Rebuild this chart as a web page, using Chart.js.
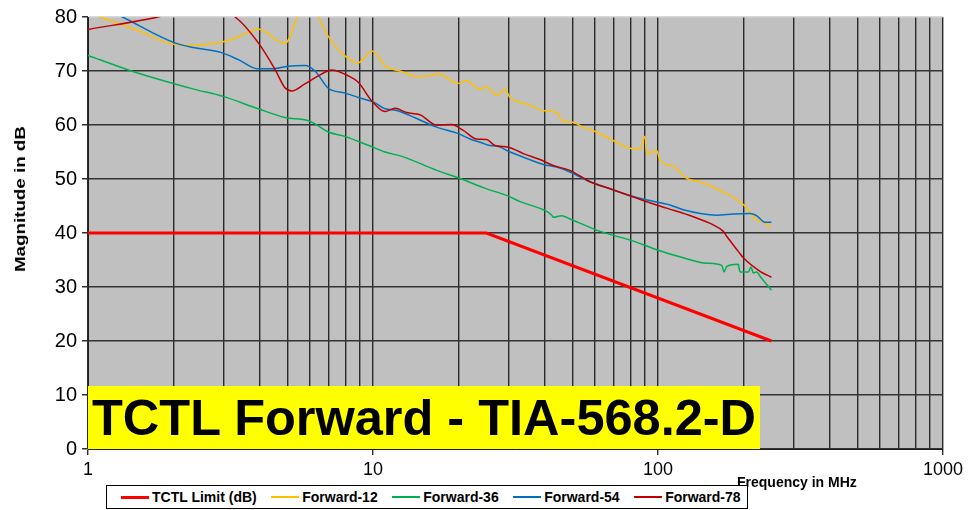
<!DOCTYPE html>
<html lang="en">
<head>
  <meta charset="UTF-8">
  <title>TCTL Forward - TIA-568.2-D</title>
  <script src="https://cdn.jsdelivr.net/npm/chart.js"></script>
  <style>
    body {
      margin: 0;
      background: #fff;
      font-family: 'Liberation Sans', Arial, sans-serif;
    }

    .wrap {
      position: relative;
      width: 969px;
      height: 510px;
      overflow: hidden;
    }

    .banner {
      position: absolute;
      left: 88px;
      top: 386px;
      width: 668px;
      height: 63px;
      padding-left: 4px;
      background: #ffff00;
      color: #000;
      font-weight: bold;
      font-size: 50.5px;
      line-height: 63px;
      white-space: nowrap;
    }

    .y-title {
      position: absolute;
      left: 20px;
      top: 199px;
      font-weight: bold;
      font-size: 15px;
      line-height: 16px;
      white-space: nowrap;
      transform: translate(-50%, -50%) rotate(-90deg) scaleX(1.25);
    }

    .x-title {
      position: absolute;
      left: 737px;
      top: 474px;
      font-weight: bold;
      font-size: 14px;
      line-height: 16px;
      white-space: nowrap;
    }

    .legend {
      position: absolute;
      left: 106px;
      top: 485px;
      width: 626px;
      height: 22px;
      padding-left: 14px;
      border: 1px solid #000;
      background: #fff;
      display: flex;
      align-items: center;
      gap: 14.5px;
      font-weight: bold;
      font-size: 14px;
      white-space: nowrap;
    }

    .legend .item {
      display: flex;
      align-items: center;
    }

    .legend .swatch {
      width: 28px;
      margin-right: 3px;
    }
  </style>
</head>
<body>

<div class="wrap">
  <canvas id="chart" width="969" height="510"></canvas>
  <div class="y-title">Magnitude in dB</div>
  <div class="x-title">Frequency in MHz</div>
  <div class="legend" id="legend"></div>
  <div class="banner">TCTL Forward - TIA-568.2-D</div>
</div>

<script>
  // axis values
  const xTickLabels = [1, 10, 100, 1000];
  const yMin = 0, yMax = 80, yStep = 10;

  const seriesNames = ['TCTL Limit (dB)', 'Forward-12', 'Forward-36', 'Forward-54', 'Forward-78'];
  const seriesColors = ['#ff0000', '#ffc000', '#00b050', '#0070c0', '#c00000'];
  const seriesWidths = [3, 1.5, 1.5, 1.5, 1.5];

  // limit line
  const limitFreq = [1, 25, 250];
  const limitDb = [40, 40, 20];

  // Forward-12
  const fwd12Freq = [1, 1.1, 1.5, 2.02, 2.37, 3.03, 3.4, 3.95, 4.91, 5.46, 5.9, 6.41, 6.95, 7.97, 8.86,
    9.92, 11.1, 12.44, 14.23, 15.85, 16.9, 19.87, 21.3, 23.74, 25.06, 27.2, 29.05, 30.25, 34.6, 39.5,
    44.6, 45.9, 50.3, 54.6, 60.9, 67.9, 79.8, 86.5, 90.0, 91.3, 98.9, 101.6, 110.2, 114.7, 126.1,
    140.4, 169, 194, 210, 222, 233.6, 250];
  const fwd12Db = [80.8, 80.0, 77.5, 74.9, 74.8, 75.5, 76.4, 77.8, 75.1, 80.2, 83.0, 80.2, 76.5, 72.8, 71.5,
    73.7, 70.8, 70.0, 69.0, 69.1, 69.5, 67.7, 68.2, 66.6, 67.1, 65.5, 66.6, 65.1, 63.9, 62.7,
    62.2, 60.8, 60.5, 59.6, 58.7, 57.4, 55.7, 55.5, 57.9, 54.6, 55.3, 53.5, 52.5, 52.2, 50.1,
    49.5, 47.6, 45.8, 44.0, 42.4, 42.1, 40.9];

  // Forward-36
  const fwd36Freq = [1, 1.385, 1.99, 2.37, 2.98, 3.96, 4.91, 5.93, 6.26, 6.97, 7.98, 9.13, 9.76, 11.02, 12.78,
    16.73, 20.2, 24.38, 30.25, 32.8, 39.6, 42.4, 42.9, 45.9, 49.1, 62.6, 81.9, 98.9, 122.7, 148.2,
    167.3, 170.5, 174.2, 191.3, 194, 207.5, 212, 216, 222, 228, 250];
  const fwd36Db = [72.9, 70.2, 67.7, 66.6, 65.3, 63.0, 61.4, 60.8, 60.2, 58.7, 57.9, 56.7, 56.1, 55.0, 54.1,
    51.6, 50.1, 48.4, 46.7, 45.8, 44.3, 43.3, 42.9, 43.2, 42.6, 40.3, 38.5, 36.9, 35.4, 34.4,
    34.0, 32.8, 33.8, 34.2, 32.8, 32.8, 33.7, 32.6, 32.8, 32.0, 29.4];

  // Forward-54
  const fwd54Freq = [1, 1.31, 2.02, 2.37, 2.94, 3.37, 3.96, 4.41, 5.04, 5.77, 6.26, 6.97, 7.98, 9.13, 10.16,
    11.02, 12.11, 14.23, 16.73, 19.93, 21.9, 24.07, 25.73, 27.2, 30.25, 34.6, 39.6, 44.1, 49.1, 57.7,
    67.9, 79.8, 93.7, 110.2, 122.7, 160.6, 183.7, 210.2, 222, 237.4, 250];
  const fwd54Db = [83.0, 80.1, 75.2, 74.3, 73.4, 72.1, 70.4, 70.4, 70.9, 71.0, 70.0, 66.8, 65.9, 64.9, 64.1,
    63.0, 62.7, 61.2, 59.6, 58.4, 57.4, 56.7, 56.2, 56.1, 55.0, 53.8, 52.7, 52.2, 51.3, 49.5,
    48.2, 46.9, 46.0, 45.2, 44.3, 43.3, 43.5, 43.6, 43.2, 42.0, 42.0];

  // Forward-78
  const fwd78Freq = [1, 1.79, 2.4, 3.28, 3.96, 4.53, 4.91, 5.19, 5.77, 6.43, 7.16, 8.19, 8.88, 9.89, 11.02,
    11.95, 13.13, 14.62, 16.73, 18.88, 20.74, 23.12, 25.06, 26.8, 29.83, 33.7, 38.5, 42.9, 49.1, 57.7,
    67.9, 79.8, 93.7, 107.3, 133.0, 156.3, 169.5, 174.2, 191.3, 199.3, 228, 250];
  const fwd78Db = [77.7, 80.1, 82.0, 80.0, 75.2, 70.3, 66.9, 66.3, 67.6, 69.1, 70.2, 69.1, 67.9, 64.5, 62.5,
    63.1, 62.3, 61.9, 60.0, 60.1, 59.0, 57.4, 57.3, 56.2, 55.9, 54.7, 53.6, 52.5, 51.6, 49.5,
    48.2, 46.9, 45.6, 44.6, 43.0, 41.5, 40.3, 39.4, 36.6, 35.4, 32.9, 31.8];

  const seriesFreq = [limitFreq, fwd12Freq, fwd36Freq, fwd54Freq, fwd78Freq];
  const seriesDb = [limitDb, fwd12Db, fwd36Db, fwd54Db, fwd78Db];

  // vertical grid at 1..9 of every decade
  const xGrid = [];
  for (let d = 1; d < 1000; d *= 10) {
    for (let m = 1; m <= 9; m++) xGrid.push(m * d);
  }
  xGrid.push(1000);

  const datasets = seriesNames.map((name, i) => ({
    label: name,
    data: seriesFreq[i].map((f, j) => ({ x: f, y: seriesDb[i][j] })),
    borderColor: seriesColors[i],
    borderWidth: seriesWidths[i],
    pointRadius: 0,
    fill: false,
    cubicInterpolationMode: i === 0 ? 'default' : 'monotone',
    tension: 0,
    order: seriesNames.length - i
  }));

  // html legend
  const legend = document.getElementById('legend');
  seriesNames.forEach((name, i) => {
    const item = document.createElement('div');
    item.className = 'item';
    const sw = document.createElement('span');
    sw.className = 'swatch';
    sw.style.height = seriesWidths[i] + 'px';
    sw.style.background = seriesColors[i];
    const txt = document.createElement('span');
    txt.textContent = name;
    item.appendChild(sw);
    item.appendChild(txt);
    legend.appendChild(item);
  });

  const plotBg = {
    id: 'plotBg',
    beforeDraw(chart) {
      const { ctx, chartArea: a } = chart;
      ctx.save();
      ctx.fillStyle = '#c0c0c0';
      ctx.fillRect(a.left, a.top, a.right - a.left, a.bottom - a.top);
      ctx.restore();
    }
  };

  const tickFont = { family: "'Liberation Sans', Arial, sans-serif", size: 18 };

  new Chart(document.getElementById('chart'), {
    type: 'line',
    data: { datasets: datasets },
    plugins: [plotBg],
    options: {
      responsive: false,
      animation: false,
      devicePixelRatio: 1,
      layout: { padding: { left: 0, top: 14, right: 26, bottom: 0 } },
      plugins: {
        legend: { display: false },
        tooltip: { enabled: false }
      },
      scales: {
        x: {
          type: 'logarithmic',
          min: 1,
          max: 1000,
          afterBuildTicks: s => { s.ticks = xGrid.map(v => ({ value: v })); },
          afterFit: s => { s.height = 61; },
          border: { display: true, color: '#202020', width: 1 },
          grid: {
            color: '#2a2a2a',
            lineWidth: 1.4,
            tickLength: 6,
            tickColor: c => xTickLabels.includes(c.tick && c.tick.value) ? '#303030' : 'rgba(0,0,0,0)'
          },
          ticks: {
            autoSkip: false,
            maxRotation: 0,
            minRotation: 0,
            padding: 4,
            color: '#000',
            font: tickFont,
            callback: v => xTickLabels.includes(v) ? String(v) : ''
          }
        },
        y: {
          min: yMin,
          max: yMax,
          afterFit: s => { s.width = 88; },
          border: { display: true, color: '#202020', width: 1 },
          grid: {
            color: c => c.tick && c.tick.value === yMax ? '#d8d8d8' : '#333333',
            lineWidth: 1.5,
            tickLength: 6,
            tickColor: '#303030'
          },
          ticks: {
            stepSize: yStep,
            padding: 5,
            color: '#000',
            font: { family: tickFont.family, size: 20 }
          }
        }
      }
    }
  });
</script>

</body>
</html>
